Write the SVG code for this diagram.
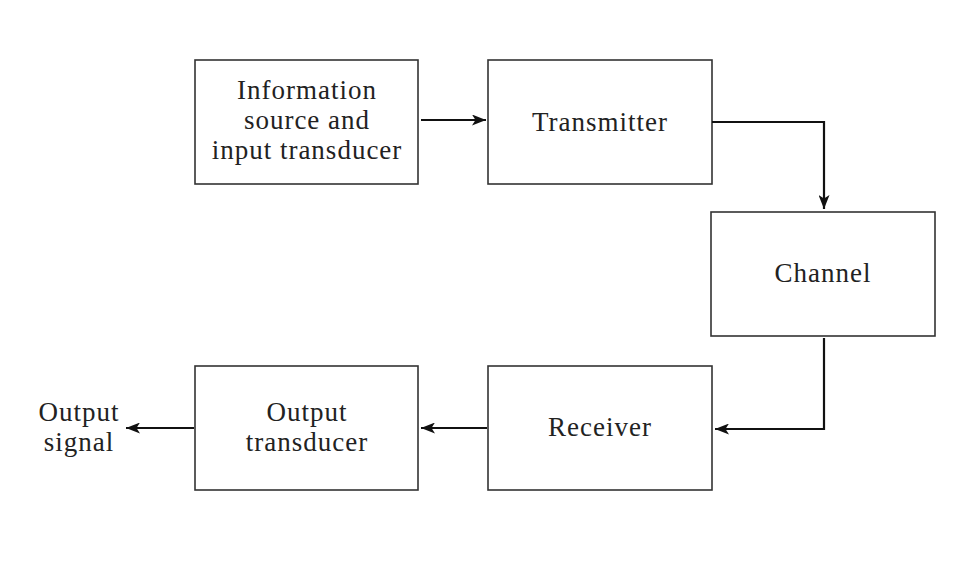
<svg xmlns="http://www.w3.org/2000/svg" width="954" height="573" viewBox="0 0 954 573">
<style>
.box{fill:#fff;stroke:#333;stroke-width:1.6}
.t{font-family:"Liberation Serif","Times New Roman",serif;font-size:27px;fill:#222;text-anchor:middle;letter-spacing:1px}
.c{fill:none;stroke:#111;stroke-width:2.2}
</style>
<defs>
<marker id="ah" viewBox="0 0 14 11" refX="14" refY="5.5" markerWidth="14" markerHeight="11" markerUnits="userSpaceOnUse" orient="auto">
<path d="M0,0 L14,5.5 L0,11 L3.5,5.5 Z" fill="#111"/>
</marker>
</defs>
<rect width="954" height="573" fill="#fff"/>
<g id="source"><rect class="box" x="195" y="60" width="223" height="124"/>
<text class="t" x="307" y="99">Information</text>
<text class="t" x="307" y="129">source and</text>
<text class="t" x="307" y="159">input transducer</text></g>
<g id="transmitter"><rect class="box" x="488" y="60" width="224" height="124"/>
<text class="t" x="600" y="131">Transmitter</text></g>
<g id="channel"><rect class="box" x="711" y="212" width="224" height="124"/>
<text class="t" x="823" y="282">Channel</text></g>
<g id="receiver"><rect class="box" x="488" y="366" width="224" height="124"/>
<text class="t" x="600" y="436">Receiver</text></g>
<g id="output"><rect class="box" x="195" y="366" width="223" height="124"/>
<text class="t" x="307" y="421">Output</text>
<text class="t" x="307" y="451">transducer</text></g>
<g id="signal"><text class="t" x="79" y="421">Output</text>
<text class="t" x="79" y="451">signal</text></g>
<g id="connectors">
<path class="c" d="M421,120 H486" marker-end="url(#ah)"/>
<path class="c" d="M712,122 H824 V209" marker-end="url(#ah)"/>
<path class="c" d="M824,338 V429 H715" marker-end="url(#ah)"/>
<path class="c" d="M487,428 H421" marker-end="url(#ah)"/>
<path class="c" d="M194,428 H126" marker-end="url(#ah)"/>
</g>
</svg>
